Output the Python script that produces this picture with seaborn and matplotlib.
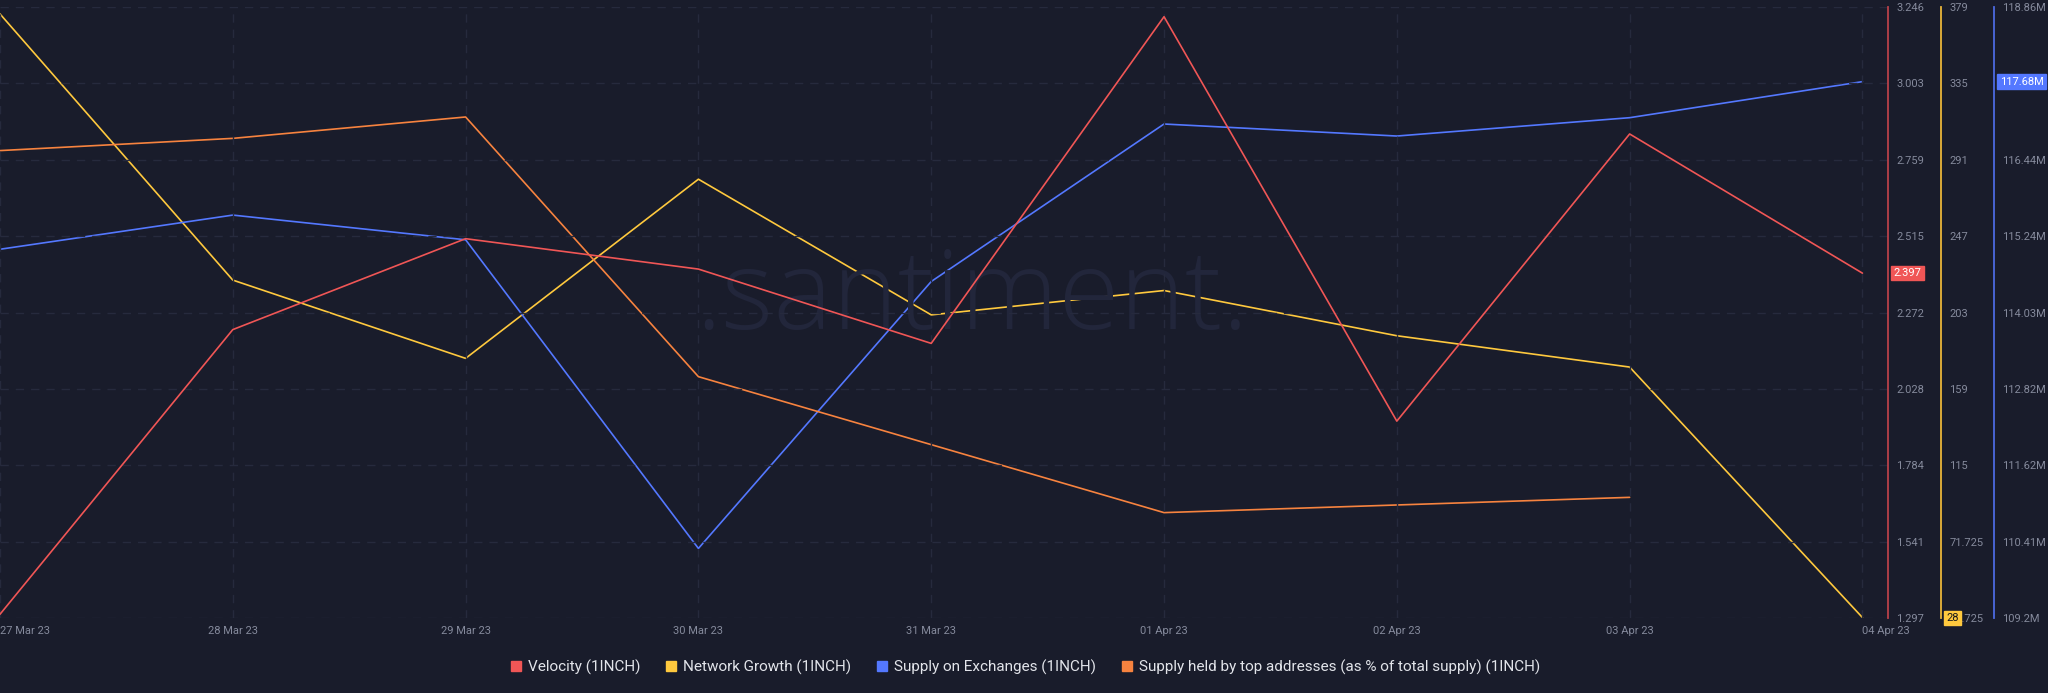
import matplotlib
matplotlib.use("Agg")
import matplotlib.pyplot as plt
from matplotlib.lines import Line2D
import numpy as np
import pandas as pd
import seaborn as sns

# data
dates = pd.date_range("2023-03-27", "2023-04-04", freq="D")
date_labels = ["27 Mar 23", "28 Mar 23", "29 Mar 23", "30 Mar 23", "31 Mar 23",
               "01 Apr 23", "02 Apr 23", "03 Apr 23", "04 Apr 23"]
velocity = [1.309, 2.217, 2.507, 2.410, 2.173, 3.215, 1.925, 2.841, 2.397]
network_growth = [375, 222, 177, 280, 202, 216, 190, 172, 28]
supply_exchanges = [115.03, 115.57, 115.18, 110.30, 114.52, 117.01, 116.82, 117.11, 117.68]  # millions
supply_top = [82.612, 82.628, 82.656, 82.316, 82.227, 82.138, 82.148, 82.158, np.nan]

vel_ticks = ["1.297", "1.541", "1.784", "2.028", "2.272", "2.515", "2.759", "3.003", "3.246"]
ng_ticks = ["27.725", "71.725", "115", "159", "203", "247", "291", "335", "379"]
se_ticks = ["109.2M", "110.41M", "111.62M", "112.82M", "114.03M", "115.24M", "116.44M", "117.65M", "118.86M"]

df = pd.DataFrame({"date": dates, "velocity": velocity, "network": network_growth,
                   "exchanges": supply_exchanges, "top": supply_top})

BG = "#191c2b"
GRID = "#262a3d"
TXT = "#858a9c"
RED, YEL, BLU, ORA = "#f05656", "#ffc93e", "#5478ff", "#f7833f"

sns.set_theme(style="dark")
plt.rcParams["font.family"] = ["Roboto", "DejaVu Sans"]

fig = plt.figure(figsize=(20.48, 6.93), dpi=100, facecolor=BG)
ax = fig.add_axes([0.0, 0.1082, 0.9219, 0.8817])
ax.set_facecolor(BG)
ax2 = ax.twinx()
ax3 = ax.twinx()
ax4 = ax.twinx()

x0 = dates[0]
xmax = x0 + pd.Timedelta(days=8.11)

sns.lineplot(data=df, x="date", y="top", ax=ax4, color=ORA, linewidth=1.2)
sns.lineplot(data=df, x="date", y="exchanges", ax=ax3, color=BLU, linewidth=1.2)
sns.lineplot(data=df, x="date", y="network", ax=ax2, color=YEL, linewidth=1.2)
sns.lineplot(data=df, x="date", y="velocity", ax=ax, color=RED, linewidth=1.2)

# velocity axis is drawn on top
ax.set_zorder(ax4.get_zorder() + 1)
ax.patch.set_visible(False)
fig.patch.set_facecolor(BG)
for a in (ax2, ax3, ax4):
    a.patch.set_visible(False)
ax4.set_zorder(0.5)

def setup(a, lo, hi, labels, color, pos):
    a.set_ylim(lo, hi)
    a.set_yticks(np.linspace(lo, hi, len(labels)))
    a.set_yticklabels(labels)
    a.yaxis.set_label_position("right")
    a.yaxis.tick_right()
    a.set_ylabel("")
    a.set_xlabel("")
    for s in ("top", "bottom", "left"):
        a.spines[s].set_visible(False)
    a.spines["right"].set_visible(True)
    a.spines["right"].set_position(("axes", pos))
    a.spines["right"].set_color(color)
    a.spines["right"].set_linewidth(1.3)
    a.tick_params(axis="y", length=0, pad=6, colors=TXT, labelsize=8)
    a.grid(False)

setup(ax, 1.297, 3.246, vel_ticks, "#b8414a", 1.0)
setup(ax2, 27.725, 379, ng_ticks, "#e9b53a", 1941 / 1888)
setup(ax3, 109.2, 118.86, se_ticks, "#4d6ae0", 1994 / 1888)
ax4.set_ylim(82.0, 82.8)
ax4.set_yticks([])
ax4.set_ylabel("")
for s in ax4.spines.values():
    s.set_visible(False)

ax.set_xlim(x0, xmax)
ax.set_xticks(dates)
ax.set_xticklabels(date_labels)
ax.tick_params(axis="x", length=0, pad=6, colors=TXT, labelsize=8)
xt = ax.get_xticklabels()
xt[0].set_horizontalalignment("left")
xt[-1].set_horizontalalignment("left")

ax.grid(True, axis="both", color=GRID, linestyle=(0, (6, 5)), linewidth=1.0)
ax.set_axisbelow(True)
for s in ("top", "bottom", "left"):
    ax.spines[s].set_visible(False)

# watermark
ax.text(0.515, 0.52, ".santiment.", transform=ax.transAxes, ha="center", va="center",
        fontsize=80, color="#22263b", fontweight="light", zorder=0,
        family=["Open Sans", "DejaVu Sans"])

# current value badges
ax.annotate(f"{velocity[-1]:.3f}", xy=(1.0, velocity[-1]), xycoords=("axes fraction", "data"),
            xytext=(4, 0), textcoords="offset points", ha="left", va="center", fontsize=8,
            color="white", bbox=dict(boxstyle="square,pad=0.2", fc=RED, ec=RED), zorder=10,
            annotation_clip=False)
ax2.annotate(f"{network_growth[-1]}", xy=(1941 / 1888, 27.725), xycoords=("axes fraction", "data"),
             xytext=(4, 0), textcoords="offset points", ha="left", va="center", fontsize=8,
             color="#1a1a1a", bbox=dict(boxstyle="square,pad=0.2", fc=YEL, ec=YEL), zorder=10,
             annotation_clip=False)
ax3.annotate(f"{supply_exchanges[-1]:.2f}M", xy=(1994 / 1888, supply_exchanges[-1]),
             xycoords=("axes fraction", "data"), xytext=(4, 0), textcoords="offset points",
             ha="left", va="center", fontsize=8, color="white",
             bbox=dict(boxstyle="square,pad=0.2", fc=BLU, ec=BLU), zorder=10,
             annotation_clip=False)

handles = [Line2D([], [], marker="s", linestyle="none", markersize=6.5, color=c)
           for c in (RED, YEL, BLU, ORA)]
names = ["Velocity (1INCH)", "Network Growth (1INCH)", "Supply on Exchanges (1INCH)",
         "Supply held by top addresses (as % of total supply) (1INCH)"]
leg = fig.legend(handles, names, loc="center", bbox_to_anchor=(0.5, 0.037), ncol=4,
                 frameon=False, fontsize=11, handletextpad=0.3, columnspacing=1.5,
                 handlelength=1.0)
for t in leg.get_texts():
    t.set_color("#e2e4ea")

fig.savefig("out.png", dpi=100, facecolor=BG)
